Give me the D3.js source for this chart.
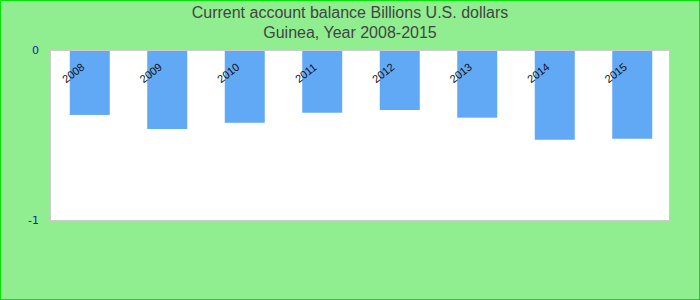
<!DOCTYPE html>
<html>
<head>
<meta charset="utf-8">
<script src="https://cdn.jsdelivr.net/npm/d3@7"></script>
<style>
  html, body { margin: 0; padding: 0; background: #90ee90; }
  svg { display: block; }
</style>
</head>
<body>
<script>
// Guinea current account balance, billions of U.S. dollars
const years = ["2008", "2009", "2010", "2011", "2012", "2013", "2014", "2015"];
const balance = [-0.382, -0.465, -0.428, -0.369, -0.353, -0.398, -0.528, -0.522];
const yTicks = [0, -1];
const titleLines = ["Current account balance Billions U.S. dollars", "Guinea, Year 2008-2015"];

const W = 700, H = 300;
const plot = { left: 50, right: 670, top: 50, bottom: 220 };

const svg = d3.select("body").append("svg")
  .attr("width", W).attr("height", H);

// background with bright green frame
svg.append("rect")
  .attr("x", 0.5).attr("y", 0.5)
  .attr("width", W - 1).attr("height", H - 1)
  .attr("fill", "#90ee90")
  .attr("stroke", "#00e600").attr("stroke-width", 1);

// title
svg.append("g").selectAll("text")
  .data(titleLines).join("text")
  .attr("x", W / 2)
  .attr("y", (d, i) => 18 + i * 20)
  .attr("text-anchor", "middle")
  .attr("font-family", "'Liberation Sans', Arial, sans-serif")
  .attr("font-size", 16)
  .attr("fill", "#444")
  .text(d => d);

const x = d3.scaleBand()
  .domain(years)
  .range([plot.left, plot.right])
  .paddingInner(0.484)
  .paddingOuter(0.242);

const y = d3.scaleLinear()
  .domain([0, -1])
  .range([plot.top, plot.bottom]);

// plot area
svg.append("rect")
  .attr("x", plot.left + 0.5).attr("y", plot.top + 0.5)
  .attr("width", plot.right - plot.left - 1)
  .attr("height", plot.bottom - plot.top)
  .attr("fill", "#fff")
  .attr("stroke", "#cccccc").attr("stroke-width", 1);

// bars
svg.append("g").selectAll("rect")
  .data(years).join("rect")
  .attr("x", d => x(d) + 1)
  .attr("y", y(0) + 1)
  .attr("width", x.bandwidth())
  .attr("height", (d, i) => y(balance[i]) - y(0) - 1)
  .attr("fill", "#61a9f4");

// y axis labels
const yAxis = d3.axisLeft(y).tickValues(yTicks).tickSize(0).tickPadding(0)
  .tickFormat(d => String(d));
const gy = svg.append("g")
  .attr("transform", `translate(${plot.left - 11},0)`)
  .call(yAxis);
gy.select(".domain").remove();
gy.selectAll("text")
  .attr("font-family", "'DejaVu Sans', sans-serif")
  .attr("font-size", 11)
  .attr("fill", "#1a1aaa")
  .attr("dy", "0.32em");

// x labels, rotated, inside the plot near the zero line
const gx = svg.append("g");
gx.selectAll("text")
  .data(years).join("text")
  .attr("transform", d => `translate(${x(d) + 7},${plot.top + 26}) rotate(-38)`)
  .attr("text-anchor", "middle")
  .attr("font-family", "'Liberation Sans', Arial, sans-serif")
  .attr("font-size", 11)
  .attr("fill", "#111")
  .text(d => d);
</script>
</body>
</html>
